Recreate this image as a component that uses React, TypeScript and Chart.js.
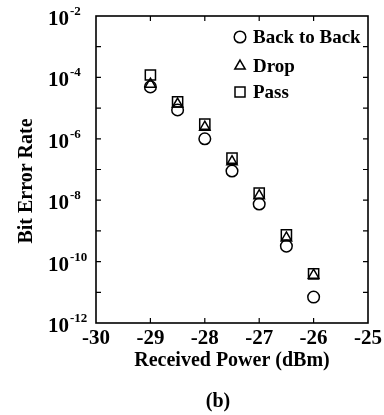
import React, { useEffect, useRef } from "react";
import { Chart, registerables } from "chart.js";

Chart.register(...registerables);

const powerDbm = [-29, -28.5, -28, -27.5, -27, -26.5, -26];
const backToBack = [4.9e-5, 8.7e-6, 1.0e-6, 8.9e-8, 7.5e-9, 3.2e-10, 7.0e-12];
const drop = [6.0e-5, 1.35e-5, 2.4e-6, 1.8e-7, 1.4e-8, 5.9e-10, 3.6e-11];
const pass = [1.2e-4, 1.6e-5, 3.0e-6, 2.35e-7, 1.7e-8, 7.4e-10, 4.0e-11];

const xTickValues = [-29, -28, -27, -26];
const yTickValues = [1e-3, 1e-4, 1e-5, 1e-6, 1e-7, 1e-8, 1e-9, 1e-10, 1e-11];
const yLabelExponents = [-2, -4, -6, -8, -10, -12];
const seriesNames = ["Back to Back", "Drop", "Pass"];
const seriesStyles = ["circle", "triangle", "rect"];

const FONT = "'Liberation Serif', 'Times New Roman', serif";

function drawMarker(ctx: CanvasRenderingContext2D, style: string, x: number, y: number) {
  ctx.beginPath();
  if (style === "circle") {
    ctx.arc(x, y, 5.8, 0, Math.PI * 2);
  } else if (style === "triangle") {
    const r = 6;
    ctx.moveTo(x, y - r);
    ctx.lineTo(x + r * Math.sin(Math.PI * 2 / 3), y + r / 2);
    ctx.lineTo(x - r * Math.sin(Math.PI * 2 / 3), y + r / 2);
    ctx.closePath();
  } else {
    ctx.rect(x - 5, y - 5, 10, 10);
  }
  ctx.stroke();
}

export default function App() {
  const ref = useRef<HTMLCanvasElement>(null);

  useEffect(() => {
    document.body.style.margin = "0";
    const canvas = ref.current!;
    const mk = (arr: number[]) => arr.map((y, i) => ({ x: powerDbm[i], y }));

    const decorPlugin = {
      id: "decor",
      afterDraw(chart: any) {
        const { ctx, chartArea: a, scales } = chart;
        const xs = scales.x;
        const ys = scales.y;
        ctx.save();
        ctx.strokeStyle = "#000";
        ctx.fillStyle = "#000";
        ctx.lineWidth = 1.6;
        ctx.strokeRect(a.left, a.top, a.right - a.left, a.bottom - a.top);
        ctx.lineWidth = 1.2;
        // inward ticks
        ctx.beginPath();
        for (const v of xTickValues) {
          const px = xs.getPixelForValue(v);
          ctx.moveTo(px, a.bottom);
          ctx.lineTo(px, a.bottom - 5);
          ctx.moveTo(px, a.top);
          ctx.lineTo(px, a.top + 5);
        }
        for (const v of yTickValues) {
          const py = ys.getPixelForValue(v);
          ctx.moveTo(a.left, py);
          ctx.lineTo(a.left + 5, py);
          ctx.moveTo(a.right, py);
          ctx.lineTo(a.right - 5, py);
        }
        ctx.stroke();

        // y tick labels with superscripts
        ctx.textBaseline = "alphabetic";
        ctx.textAlign = "left";
        for (const e of yLabelExponents) {
          const py = ys.getPixelForValue(Math.pow(10, e));
          ctx.font = `bold 21px ${FONT}`;
          const x0 = 48;
          ctx.fillText("10", x0, py + 9);
          const w = ctx.measureText("10").width;
          ctx.font = `bold 13px ${FONT}`;
          ctx.fillText("-" + Math.abs(e), x0 + w + 1, py - 1);
        }

        // y title
        ctx.save();
        ctx.translate(27, 181);
        ctx.rotate(-Math.PI / 2);
        ctx.font = `bold 20px ${FONT}`;
        ctx.textAlign = "center";
        ctx.textBaseline = "middle";
        ctx.fillText("Bit Error Rate", 0, 0);
        ctx.restore();

        // legend
        const rows = [37, 66, 92];
        ctx.lineWidth = 1.5;
        ctx.font = `bold 19px ${FONT}`;
        ctx.textAlign = "left";
        ctx.textBaseline = "middle";
        seriesNames.forEach((name, i) => {
          drawMarker(ctx, seriesStyles[i], 240, rows[i]);
          ctx.fillText(name, 253, rows[i] + 1);
        });

        // caption
        ctx.font = `bold 20px ${FONT}`;
        ctx.textAlign = "center";
        ctx.fillText("(b)", 218, 402);
        ctx.restore();
      },
    };

    const common = {
      borderColor: "#000",
      backgroundColor: "rgba(0,0,0,0)",
      pointBorderWidth: 1.5,
      showLine: false,
    };

    const chart = new Chart(canvas, {
      type: "scatter",
      data: {
        datasets: [
          { ...common, label: seriesNames[0], data: mk(backToBack), pointStyle: "circle", pointRadius: 5.8 },
          { ...common, label: seriesNames[1], data: mk(drop), pointStyle: "triangle", pointRadius: 6 },
          { ...common, label: seriesNames[2], data: mk(pass), pointStyle: "rect", pointRadius: 7.2 },
        ],
      },
      options: {
        responsive: false,
        animation: false,
        events: [],
        layout: { padding: { left: 0, top: 16, right: 16, bottom: 0 } },
        plugins: { legend: { display: false }, tooltip: { enabled: false } },
        scales: {
          x: {
            type: "linear",
            min: -30,
            max: -25,
            grid: { display: false, drawTicks: false, tickLength: 0 },
            border: { display: false },
            ticks: {
              stepSize: 1,
              color: "#000",
              padding: 3,
              maxRotation: 0,
              font: { family: FONT, size: 21, weight: "bold" },
              callback: (v: any) => String(v),
            },
            title: {
              display: true,
              text: "Received Power (dBm)",
              color: "#000",
              font: { family: FONT, size: 20, weight: "bold" },
              padding: { top: 0, bottom: 42 },
            },
            afterFit: (s: any) => { s.height = 92; s.paddingLeft = 0; s.paddingRight = 0; },
          },
          y: {
            type: "logarithmic",
            min: 1e-12,
            max: 1e-2,
            grid: { display: false },
            border: { display: false },
            ticks: { display: false },
            afterFit: (s: any) => { s.width = 96; },
          },
        },
      },
      plugins: [decorPlugin],
    } as any);

    return () => chart.destroy();
  }, []);

  return <canvas ref={ref} width={384} height={415} style={{ display: "block" }} />;
}
